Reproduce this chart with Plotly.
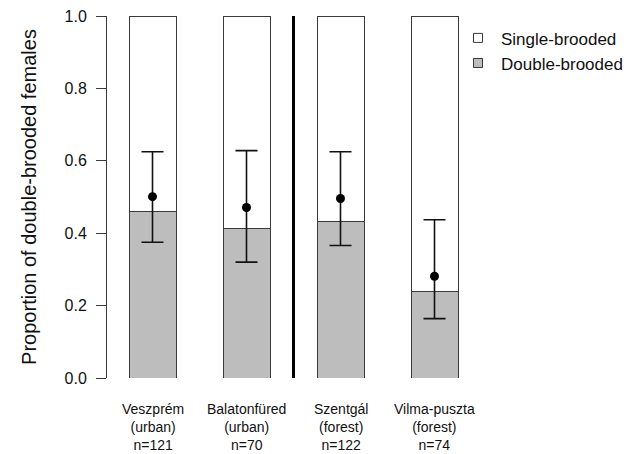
import plotly.graph_objects as go

# ---- data ----
sites = ["Veszprém", "Balatonfüred", "Szentgál", "Vilma-puszta"]
habitats = ["(urban)", "(urban)", "(forest)", "(forest)"]
n_sizes = [121, 70, 122, 74]
double_prop = [0.459, 0.412, 0.433, 0.238]   # observed proportion (bar)
estimate = [0.501, 0.471, 0.496, 0.281]      # model estimate (point)
ci_low = [0.375, 0.320, 0.366, 0.164]
ci_high = [0.625, 0.628, 0.625, 0.437]
y_ticks = [0.0, 0.2, 0.4, 0.6, 0.8, 1.0]

positions = list(range(1, len(sites) + 1))
single_prop = [1 - d for d in double_prop]

FONT = "Liberation Sans, Arial, Helvetica, sans-serif"
GRAY = "#bdbdbd"
EDGE = "#3a3a3a"

fig = go.Figure()

fig.add_trace(go.Bar(
    x=positions, y=double_prop, width=0.5,
    marker=dict(color=GRAY, line=dict(color=EDGE, width=1)),
    name="Double-brooded", showlegend=False))
fig.add_trace(go.Bar(
    x=positions, y=single_prop, width=0.5,
    marker=dict(color="white", line=dict(color=EDGE, width=1)),
    name="Single-brooded", showlegend=False))

fig.add_trace(go.Scatter(
    x=positions, y=estimate, mode="markers",
    marker=dict(color="black", size=9),
    error_y=dict(type="data", symmetric=False,
                 array=[h - e for h, e in zip(ci_high, estimate)],
                 arrayminus=[e - l for e, l in zip(estimate, ci_low)],
                 color="#111111", thickness=1.6, width=11),
    showlegend=False))

# legend entries (small squares like the reference)
fig.add_trace(go.Scatter(
    x=[None], y=[None], mode="markers", name="Single-brooded",
    marker=dict(symbol="square", size=9, color="white",
                line=dict(color=EDGE, width=1))))
fig.add_trace(go.Scatter(
    x=[None], y=[None], mode="markers", name="Double-brooded",
    marker=dict(symbol="square", size=9, color=GRAY,
                line=dict(color=EDGE, width=1))))

# separator between urban and forest sites
sep_x = (positions[1] + positions[2]) / 2
fig.add_shape(type="line", xref="x", yref="y", x0=sep_x, x1=sep_x,
              y0=0, y1=1, line=dict(color="black", width=3))

# multi-line category labels
for p, s, h, n in zip(positions, sites, habitats, n_sizes):
    fig.add_annotation(x=p, y=0, xref="x", yref="paper",
                       text=f"{s}<br>{h}<br>n={n}",
                       showarrow=False, yanchor="middle", yshift=-49,
                       font=dict(size=14, color="#111111", family=FONT))

fig.update_layout(
    width=635, height=454,
    barmode="stack",
    paper_bgcolor="white", plot_bgcolor="white",
    margin=dict(l=107, r=155, t=16, b=76, autoexpand=False),
    font=dict(family=FONT, color="#111111"),
    showlegend=True,
    legend=dict(x=0.933, xanchor="left", y=0.988, yanchor="top",
                traceorder="normal",
                font=dict(size=17, family=FONT, color="#111111"),
                bgcolor="rgba(0,0,0,0)", itemwidth=36, tracegroupgap=0),
    xaxis=dict(range=[0.516, 4.484], showticklabels=False, ticks="",
               showline=False, showgrid=False, zeroline=False),
    yaxis=dict(range=[0, 1], tickvals=y_ticks,
               ticktext=[f"{v:.1f}" for v in y_ticks],
               ticks="outside", ticklen=10, tickcolor=EDGE, tickwidth=1,
               ticklabelstandoff=6,
               showline=True, linecolor=EDGE, linewidth=1,
               showgrid=False, zeroline=False,
               tickfont=dict(size=16, family=FONT, color="#111111"),
               title=dict(text="Proportion of double-brooded females",
                          font=dict(size=20, family=FONT, color="#111111"),
                          standoff=22)),
)

fig.write_html("out.html",
               config={"displayModeBar": False},
               post_script="document.body.style.margin='0';document.body.style.padding='0';")
